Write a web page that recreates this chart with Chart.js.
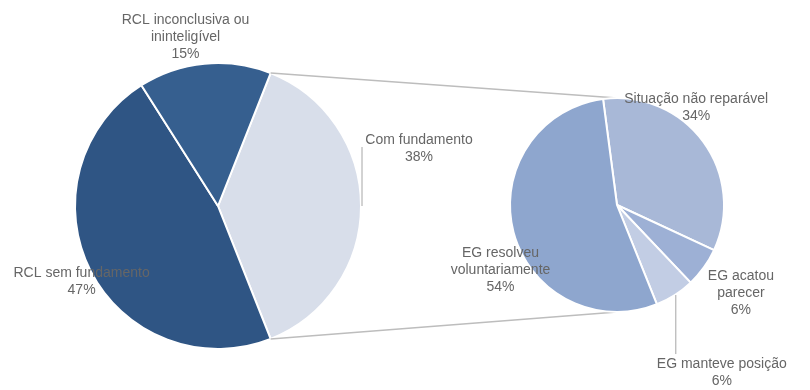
<!DOCTYPE html>
<html lang="pt">
<head>
<meta charset="utf-8">
<script src="https://cdn.jsdelivr.net/npm/chart.js@4.4.1/dist/chart.umd.min.js"></script>
<style>
    html, body { margin: 0; padding: 0; background: #fff; }
    #wrap { position: relative; width: 810px; height: 390px; }
    #wrap canvas { position: absolute; left: 0; top: 0; }
</style>
</head>
<body>
<div id="wrap">
    <canvas id="pie-main" width="810" height="390"></canvas>
    <canvas id="pie-detail" width="810" height="390"></canvas>
</div>
<script>
// --- DADOS ---
// Pizza principal (tipo de reclamação)
const mainLabels = [['Com fundamento'], ['RCL sem fundamento'], ['RCL inconclusiva ou', 'ininteligível']];
const mainValues = [38, 47, 15];
const mainColors = ['#d8deea', '#2f5584', '#365f8f'];

// Pizza secundária (desdobramento de "Com fundamento")
const detailLabels = [['Situação não reparável'], ['EG acatou', 'parecer'], ['EG manteve posição'], ['EG resolveu', 'voluntariamente']];
const detailValues = [34, 6, 6, 54];
const detailColors = ['#a8b8d7', '#9db0d5', '#c2cde4', '#8ea6ce'];

// Posição dos rótulos: deslocamento (px) a partir do ponto médio do arco externo
const mainLabelOffsets = [[58, -66], [-9, 2], [-19, -43]];
const mainLeaders = [7, null, null];
const detailLabelOffsets = [[-7, -43], [37, 9], [47, 69], [-13, 21]];
const detailLeaders = [null, null, -10, null];

const FONT = '14px "Liberation Sans", Arial, sans-serif';
const LINE_H = 17;

// Desenha os rótulos "nome + %" de cada fatia, com linha guia opcional
const sliceLabels = {
    id: 'sliceLabels',
    afterDatasetsDraw(chart, args, opts) {
        const ctx = chart.ctx;
        const meta = chart.getDatasetMeta(0);
        const values = chart.data.datasets[0].data;
        ctx.save();
        ctx.font = FONT;
        ctx.fillStyle = '#666666';
        ctx.textAlign = 'center';
        ctx.textBaseline = 'middle';
        meta.data.forEach((arc, i) => {
            const mid = (arc.startAngle + arc.endAngle) / 2;
            const ox = arc.x + Math.cos(mid) * arc.outerRadius;
            const oy = arc.y + Math.sin(mid) * arc.outerRadius;
            const [dx, dy] = opts.offsets[i];
            const x = ox + dx;
            const y = oy + dy;
            if (opts.leaders[i] !== null) {
                ctx.strokeStyle = '#a6a6a6';
                ctx.lineWidth = 1;
                ctx.beginPath();
                ctx.moveTo(ox + 1, oy);
                ctx.lineTo(ox + 1, y + opts.leaders[i]);
                ctx.stroke();
            }
            const lines = [...chart.data.labels[i], values[i] + '%'];
            lines.forEach((t, k) => ctx.fillText(t, x, y + k * LINE_H));
        });
        ctx.restore();
    }
};

// Linhas que ligam a fatia "Com fundamento" à pizza secundária
const connectors = {
    id: 'connectors',
    beforeDatasetsDraw(chart) {
        const src = mainChart.getDatasetMeta(0).data[0];
        const dst = chart.getDatasetMeta(0).data[0];
        const ctx = chart.ctx;
        const R = src.outerRadius;
        ctx.save();
        ctx.strokeStyle = '#bdbdbd';
        ctx.lineWidth = 1.5;
        ctx.beginPath();
        ctx.moveTo(src.x + Math.cos(src.startAngle) * R, src.y + Math.sin(src.startAngle) * R);
        ctx.lineTo(dst.x, dst.y - dst.outerRadius);
        ctx.moveTo(src.x + Math.cos(src.endAngle) * R, src.y + Math.sin(src.endAngle) * R);
        ctx.lineTo(dst.x, dst.y + dst.outerRadius);
        ctx.stroke();
        ctx.restore();
    }
};

const baseOptions = (padding, rotation, offsets, leaders) => ({
    responsive: false,
    animation: false,
    rotation: rotation,
    layout: { padding: padding },
    plugins: {
        legend: { display: false },
        tooltip: { enabled: false },
        sliceLabels: { offsets: offsets, leaders: leaders }
    }
});

// A fatia "Com fundamento" fica centrada à direita (90°)
const mainRotation = 90 - mainValues[0] * 3.6 / 2;

const mainChart = new Chart(document.getElementById('pie-main'), {
    type: 'pie',
    data: {
        labels: mainLabels,
        datasets: [{
            data: mainValues,
            backgroundColor: mainColors,
            borderColor: '#ffffff',
            borderWidth: 2
        }]
    },
    options: baseOptions({ left: 74, right: 448, top: 62, bottom: 40 }, mainRotation, mainLabelOffsets, mainLeaders),
    plugins: [sliceLabels]
});

new Chart(document.getElementById('pie-detail'), {
    type: 'pie',
    data: {
        labels: detailLabels,
        datasets: [{
            data: detailValues,
            backgroundColor: detailColors,
            borderColor: '#ffffff',
            borderWidth: 2
        }]
    },
    options: baseOptions({ left: 509, right: 85, top: 97, bottom: 77 }, -7.5, detailLabelOffsets, detailLeaders),
    plugins: [connectors, sliceLabels]
});
</script>
</body>
</html>
